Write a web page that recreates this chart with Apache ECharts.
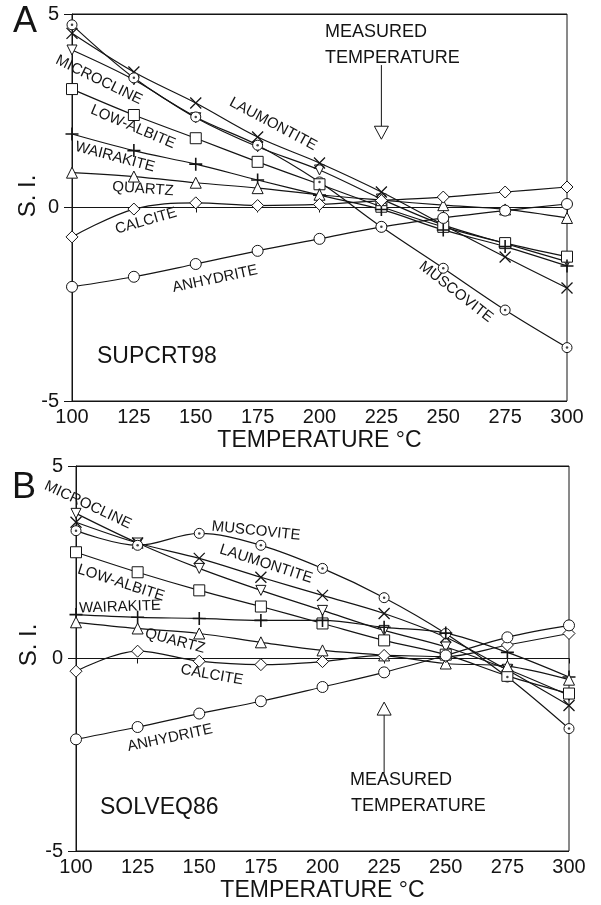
<!DOCTYPE html>
<html><head><meta charset="utf-8">
<script src="https://cdn.jsdelivr.net/npm/echarts@6/dist/echarts.min.js"></script>
<style>html,body{margin:0;padding:0;background:#fff}#c{width:601px;height:905px}</style>
</head><body><div id="c"></div>
<script>
// ---- data ----
const temps = [100, 125, 150, 175, 200, 225, 250, 275, 300];
const minerals = ['MICROCLINE','LAUMONTITE','MUSCOVITE','LOW-ALBITE','WAIRAKITE','QUARTZ','CALCITE','ANHYDRITE'];
// Panel A: SUPCRT98
const A_microcline = [4.07, 3.30, 2.32, 1.57, 0.97, 0.22, -0.45, -0.93, -1.40];
const A_laumontite = [4.50, 3.50, 2.70, 1.82, 1.15, 0.40, -0.45, -1.28, -2.08];
const A_muscovite  = [4.72, 3.35, 2.34, 1.61, 0.66, -0.50, -1.57, -2.65, -3.62];
const A_lowalbite  = [3.06, 2.39, 1.79, 1.18, 0.60, 0.02, -0.50, -0.92, -1.27];
const A_wairakite  = [1.90, 1.47, 1.12, 0.71, 0.32, -0.05, -0.58, -1.01, -1.51];
const A_quartz     = [0.90, 0.80, 0.64, 0.50, 0.33, 0.19, 0.06, -0.05, -0.27];
const A_calcite    = [-0.76, -0.04, 0.12, 0.05, 0.08, 0.18, 0.27, 0.40, 0.53];
const A_anhydrite  = [-2.05, -1.79, -1.46, -1.12, -0.81, -0.50, -0.27, -0.08, 0.09];
// Panel B: SOLVEQ86
const B_microcline = [3.77, 3.00, 2.34, 1.77, 1.25, 0.73, 0.30, -0.28, -0.96];
const B_laumontite = [3.54, 3.00, 2.60, 2.11, 1.64, 1.17, 0.55, -0.30, -1.22];
const B_muscovite  = [3.32, 2.94, 3.25, 2.94, 2.34, 1.58, 0.65, -0.48, -1.82];
const B_lowalbite  = [2.76, 2.24, 1.77, 1.35, 0.91, 0.47, 0.10, -0.45, -0.91];
const B_wairakite  = [1.14, 1.07, 1.04, 0.99, 0.99, 0.81, 0.66, 0.16, -0.48];
const B_quartz     = [0.94, 0.78, 0.65, 0.42, 0.21, 0.08, -0.13, -0.20, -0.55];
const B_calcite    = [-0.33, 0.19, -0.07, -0.16, -0.08, 0.08, 0.05, 0.35, 0.65];
const B_anhydrite  = [-2.10, -1.78, -1.43, -1.11, -0.74, -0.36, 0.08, 0.55, 0.86];
const xTickLabels = ['100','125','150','175','200','225','250','275','300'];
const yTickLabels = ['-5','0','5'];
const measuredT = 225;

// ---- styling ----
const FONT = '"Liberation Sans", Arial, Helvetica, sans-serif';
const INK = '#141414';
const symbols = {
  'MICROCLINE': {symbol:'triangle', rotate:180, size:10, fill:'#fff', bw:1},
  'LAUMONTITE': {symbol:'path://M0,0L10,10M10,0L0,10', rotate:0, size:11, fill:'none', bw:1.3},
  'MUSCOVITE':  {symbol:'circle', rotate:0, size:10, fill:'#fff', bw:1},
  'LOW-ALBITE': {symbol:'rect', rotate:0, size:11, fill:'#fff', bw:1},
  'WAIRAKITE':  {symbol:'path://M5,0L5,10M0,5L10,5', rotate:0, size:13, fill:'none', bw:1.6},
  'QUARTZ':     {symbol:'triangle', rotate:0, size:11, fill:'#fff', bw:1},
  'CALCITE':    {symbol:'diamond', rotate:0, size:12, fill:'#fff', bw:1},
  'ANHYDRITE':  {symbol:'circle', rotate:0, size:11, fill:'#fff', bw:1}
};
const panelData = [
  [A_microcline, A_laumontite, A_muscovite, A_lowalbite, A_wairakite, A_quartz, A_calcite, A_anhydrite],
  [B_microcline, B_laumontite, B_muscovite, B_lowalbite, B_wairakite, B_quartz, B_calcite, B_anhydrite]
];

const grids = [
  {left:72, top:14, width:495, height:387, show:true, borderColor:INK, borderWidth:1},
  {left:76, top:466, width:493, height:385, show:true, borderColor:INK, borderWidth:1}
];
function xAxisFor(i){
  return {type:'value', gridIndex:i, min:100, max:300, interval:25,
    name:'TEMPERATURE °C', nameLocation:'middle', nameGap:28,
    nameTextStyle:{fontFamily:FONT, fontSize:23, color:INK},
    axisLine:{lineStyle:{color:INK, width:1}},
    axisTick:{length:5, lineStyle:{color:INK}},
    axisLabel:{fontFamily:FONT, fontSize:20, color:INK, margin:6,
      formatter:v=>xTickLabels[Math.round((v-100)/25)]},
    splitLine:{show:false}};
}
function yAxisFor(i){
  return {type:'value', gridIndex:i, min:-5, max:5, interval:5,
    axisLine:{show:true, lineStyle:{color:INK, width:1}},
    axisTick:{show:true, length:8, lineStyle:{color:INK}},
    axisLabel:{fontFamily:FONT, fontSize:20, color:INK, margin:13,
      formatter:v=>yTickLabels[Math.round((v+5)/5)]},
    splitLine:{show:true, lineStyle:{color:INK, width:1}}};
}

const series = [];
panelData.forEach((arrs, p) => {
  arrs.forEach((vals, k) => {
    const name = minerals[k];
    const s = symbols[name];
    series.push({
      type:'line', name: name, xAxisIndex:p, yAxisIndex:p,
      data: temps.map((t,i)=>[t, vals[i]]),
      smooth:0.35, symbol:s.symbol, symbolSize:s.size, symbolRotate:s.rotate,
      showSymbol:true, showAllSymbol:true, z: 3,
      lineStyle:{color:INK, width:1.2},
      itemStyle:{color:s.fill, borderColor:INK, borderWidth:s.bw},
      emphasis:{disabled:true}, animation:false
    });
    if (name === 'MUSCOVITE') {
      series.push({type:'scatter', xAxisIndex:p, yAxisIndex:p, z:4,
        data: temps.map((t,i)=>[t, vals[i]]), symbol:'circle', symbolSize:2.5,
        itemStyle:{color:INK}, emphasis:{disabled:true}, animation:false});
    }
  });
});

const chart = echarts.init(document.getElementById('c'), null, {renderer:'canvas'});
chart.setOption({
  backgroundColor:'#fff', animation:false,
  grid: grids, xAxis:[xAxisFor(0), xAxisFor(1)], yAxis:[yAxisFor(0), yAxisFor(1)],
  series: series
});

// ---- annotations ----
function txt(text, x, y, size, deg, align){
  return {type:'text', x:x, y:y, rotation:(deg||0)*Math.PI/180, z:10,
    style:{text:text, font: size+'px '+FONT, fill:INK,
      textAlign: align||'center', textVerticalAlign:'middle',
      align: align||'center', verticalAlign:'middle'}};
}
const g = [];
g.push(txt('A', 25, 22, 36, 0));
g.push(txt('B', 24, 488, 36, 0));
g.push(txt('S. I.', 28, 196, 24, 90));
g.push(txt('S. I.', 29, 645, 24, 90));
g.push(txt('SUPCRT98', 97, 357, 23, 0, 'left'));
g.push(txt('SOLVEQ86', 100, 808, 23, 0, 'left'));
// curve labels A
g.push(txt('MICROCLINE', 99, 80, 15, -26));
g.push(txt('LOW-ALBITE', 133, 127, 15, -23));
g.push(txt('WAIRAKITE', 115, 157, 15, -15));
g.push(txt('QUARTZ', 143, 189, 15, -4));
g.push(txt('CALCITE', 146, 221, 15, 16));
g.push(txt('ANHYDRITE', 215, 279, 15, 12));
g.push(txt('LAUMONTITE', 273, 124, 15, -28));
g.push(txt('MUSCOVITE', 456, 292, 15, -38));
// curve labels B
g.push(txt('MICROCLINE', 88, 505, 15, -25));
g.push(txt('MUSCOVITE', 256, 531, 15, -6));
g.push(txt('LAUMONTITE', 266, 564, 15, -18));
g.push(txt('LOW-ALBITE', 121, 583, 15, -18));
g.push(txt('WAIRAKITE', 120, 607, 15, 2));
g.push(txt('QUARTZ', 175, 641, 15, -15));
g.push(txt('CALCITE', 212, 675, 15, -10));
g.push(txt('ANHYDRITE', 170, 738, 15, 12));
// measured temperature
g.push(txt('MEASURED', 325, 32, 18, 0, 'left'));
g.push(txt('TEMPERATURE', 325, 58, 18, 0, 'left'));
g.push(txt('MEASURED', 350, 780, 18, 0, 'left'));
g.push(txt('TEMPERATURE', 351, 806, 18, 0, 'left'));
// arrows at measured temperature (data x)
const pa1 = chart.convertToPixel({gridIndex:0}, [measuredT, 3.68]);
const pa2 = chart.convertToPixel({gridIndex:0}, [measuredT, 2.1]);
g.push({type:'line', z:10, shape:{x1:pa1[0], y1:pa1[1], x2:pa2[0], y2:pa2[1]}, style:{stroke:INK, lineWidth:1}});
g.push({type:'polygon', z:10, shape:{points:[[pa2[0]-7,pa2[1]],[pa2[0]+7,pa2[1]],[pa2[0],pa2[1]+13]]}, style:{fill:'#fff', stroke:INK, lineWidth:1}});
const pb1 = chart.convertToPixel({gridIndex:1}, [measuredT, -2.97]);
const pb2 = chart.convertToPixel({gridIndex:1}, [measuredT, -1.47]);
g.push({type:'line', z:10, shape:{x1:pb1[0], y1:pb1[1], x2:pb2[0], y2:pb2[1]}, style:{stroke:INK, lineWidth:1}});
g.push({type:'polygon', z:10, shape:{points:[[pb2[0]-7,pb2[1]],[pb2[0]+7,pb2[1]],[pb2[0],pb2[1]-13]]}, style:{fill:'#fff', stroke:INK, lineWidth:1}});
chart.setOption({graphic: g});
</script></body></html>
